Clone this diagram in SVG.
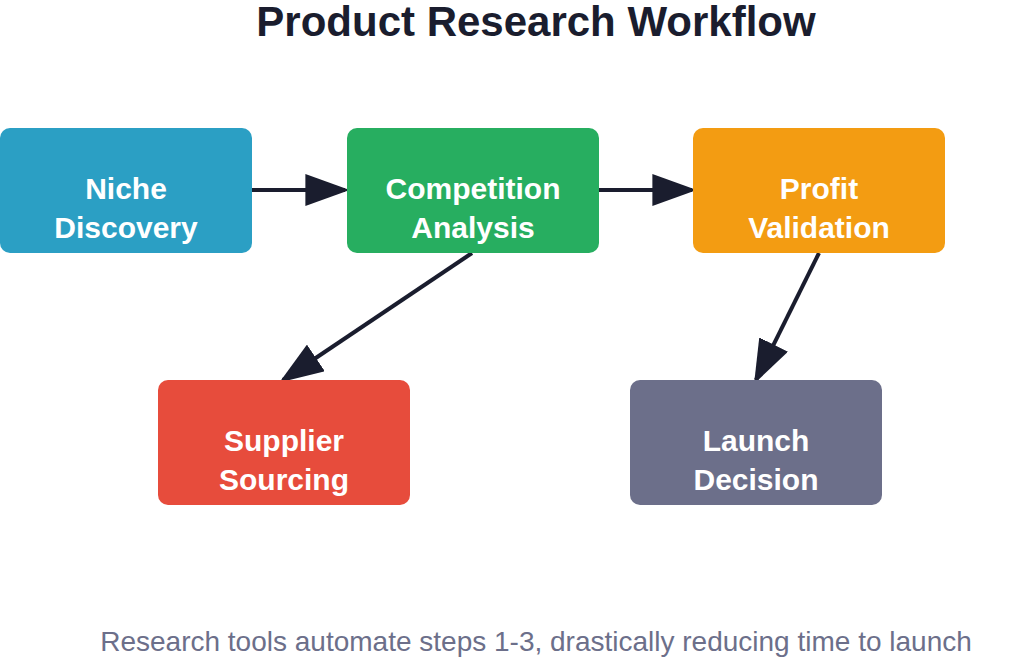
<svg xmlns="http://www.w3.org/2000/svg" width="1024" height="660" viewBox="0 0 1024 660">
<style>
.t{font-family:"Liberation Sans",Arial,sans-serif;font-weight:bold;font-size:30px;fill:#fff;text-anchor:middle}
.c{stroke:#1a1d2e;stroke-width:4;fill:none}
</style>
<defs><marker id="a" markerWidth="12" markerHeight="10" refX="11" refY="5" orient="auto" markerUnits="userSpaceOnUse" viewBox="0 0 12 10"><path d="M0,0L12,5L0,10z" fill="#1a1d2e"/></marker>
<marker id="b" viewBox="0 0 10 10" refX="9" refY="5" markerWidth="44" markerHeight="32" markerUnits="userSpaceOnUse" orient="auto" preserveAspectRatio="none"><path d="M0,0L10,5L0,10z" fill="#1a1d2e"/></marker></defs>
<rect width="1024" height="660" fill="#fff"/>
<text x="536" y="36" style="font-family:'Liberation Sans',Arial,sans-serif;font-weight:bold;font-size:42px;fill:#1a1d2e;text-anchor:middle">Product Research Workflow</text>
<g id="connectors">
<line class="c" x1="252" y1="190" x2="345" y2="190" marker-end="url(#b)"/>
<line class="c" x1="598" y1="190" x2="692" y2="190" marker-end="url(#b)"/>
<line class="c" x1="472" y1="253" x2="283" y2="380" marker-end="url(#b)"/>
<line class="c" x1="819" y1="253" x2="756" y2="380" marker-end="url(#b)"/>
</g>
<g id="n1"><rect x="0" y="128" width="252" height="125" rx="10" fill="#2b9fc4"/><text class="t" x="126" y="199">Niche</text><text class="t" x="126" y="238">Discovery</text></g>
<g id="n2"><rect x="347" y="128" width="252" height="125" rx="10" fill="#27ae60"/><text class="t" x="473" y="199">Competition</text><text class="t" x="473" y="238">Analysis</text></g>
<g id="n3"><rect x="693" y="128" width="252" height="125" rx="10" fill="#f39c12"/><text class="t" x="819" y="199">Profit</text><text class="t" x="819" y="238">Validation</text></g>
<g id="n4"><rect x="158" y="380" width="252" height="125" rx="10" fill="#e74c3c"/><text class="t" x="284" y="451">Supplier</text><text class="t" x="284" y="490">Sourcing</text></g>
<g id="n5"><rect x="630" y="380" width="252" height="125" rx="10" fill="#6c6f8a"/><text class="t" x="756" y="451">Launch</text><text class="t" x="756" y="490">Decision</text></g>
<text x="536" y="651" style="font-family:'Liberation Sans',Arial,sans-serif;font-size:28px;fill:#6c6f8a;text-anchor:middle">Research tools automate steps 1-3, drastically reducing time to launch</text>
</svg>
